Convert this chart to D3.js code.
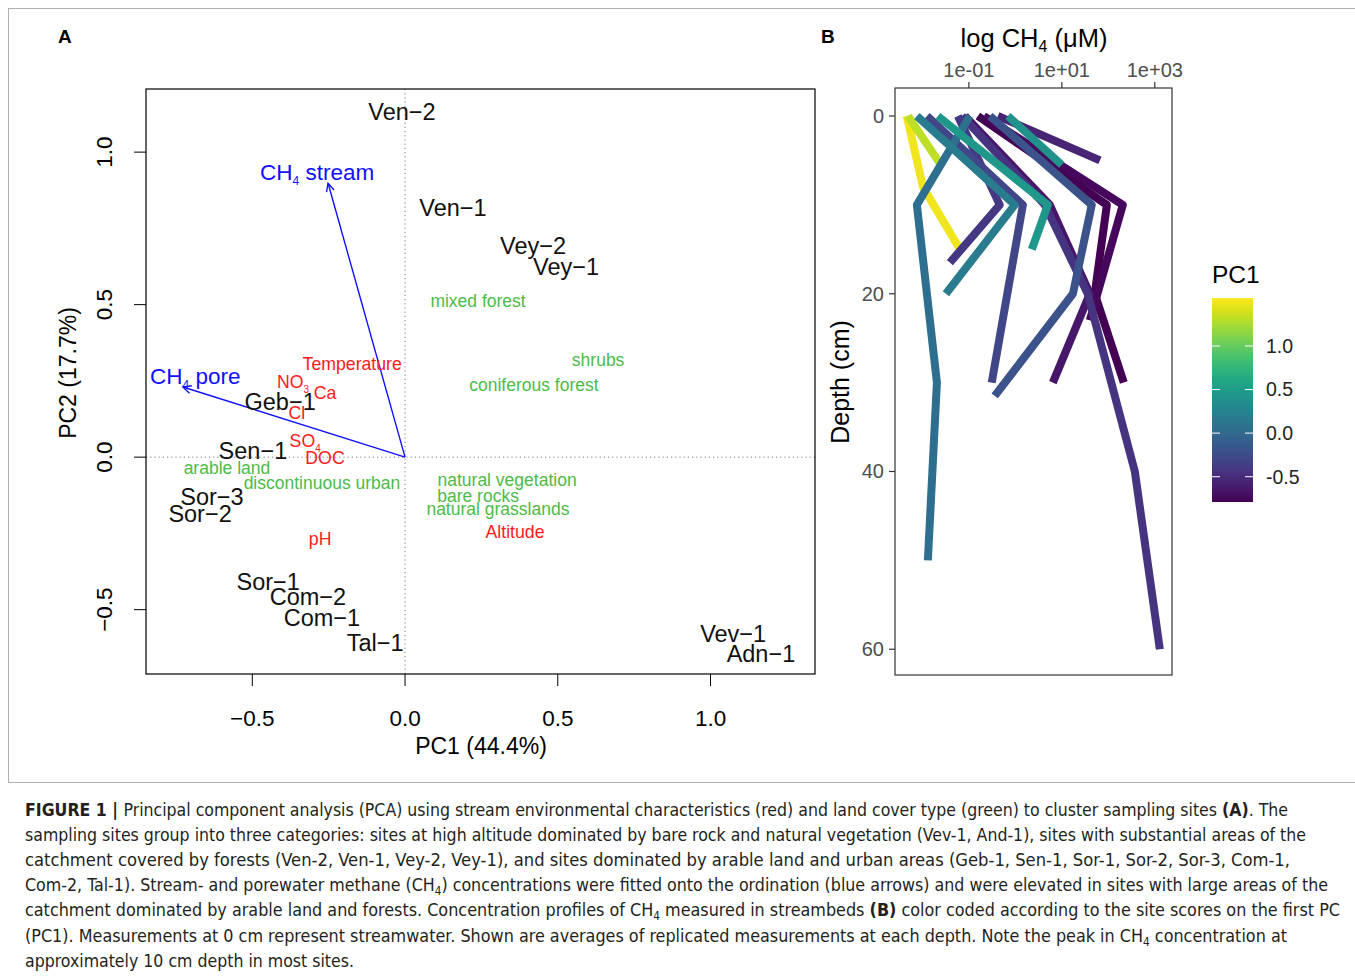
<!DOCTYPE html>
<html lang="en">
<head>
<meta charset="UTF-8">
<title>Figure 1</title>
<script src="https://d3js.org/d3.v7.min.js"></script>
<style>
  body { margin: 0; background: #fff; }
  svg text { font-family: "Liberation Sans", Arial, sans-serif; }
  .caption { font-family: "Liberation Sans Narrow", "DejaVu Sans Condensed", sans-serif; fill: #231f20; }
</style>
</head>
<body>
<div id="fig"></div>
<script>
// ---- Panel A: PCA scores (sites) ----
const siteNames = ["Ven\u22122", "Ven\u22121", "Vey\u22122", "Vey\u22121", "Geb\u22121", "Sen\u22121", "Sor\u22123",
                   "Sor\u22122", "Sor\u22121", "Com\u22122", "Com\u22121", "Tal\u22121", "Vev\u22121", "Adn\u22121"];
const siteX = [-0.01, 0.157, 0.419, 0.527, -0.409, -0.498, -0.632, -0.671, -0.448, -0.318, -0.272, -0.098, 1.074, 1.165];
const siteY = [1.131, 0.816, 0.692, 0.623, 0.180, 0.020, -0.131, -0.187, -0.407, -0.459, -0.528, -0.607, -0.580, -0.646];

// stream environmental characteristics (red)
const envNames = ["Temperature", "NO3", "Ca", "Cl", "SO4", "DOC", "pH", "Altitude"];
const envX = [-0.173, -0.367, -0.262, -0.354, -0.327, -0.262, -0.278, 0.360];
const envY = [0.305, 0.246, 0.210, 0.144, 0.052, -0.003, -0.269, -0.246];

// land cover types (green)
const landNames = ["mixed forest", "shrubs", "coniferous forest", "arable land", "discontinuous urban",
                   "natural vegetation", "bare rocks", "natural grasslands"];
const landX = [0.239, 0.632, 0.422, -0.583, -0.272, 0.334, 0.239, 0.304];
const landY = [0.511, 0.318, 0.236, -0.036, -0.085, -0.075, -0.128, -0.170];

// fitted CH4 vectors (blue)
const vecNames = ["stream", "pore"];
const vecX = [-0.252, -0.727];
const vecY = [0.898, 0.230];
const vecLabelX = [-0.288, -0.687];
const vecLabelY = [0.934, 0.266];

const pcaTicks = [-0.5, 0.0, 0.5, 1.0];

// ---- Panel B: CH4 depth profiles, coloured by PC1 (drawn in this order) ----
const profilePC1 = [1.50, 1.32, -0.79, -0.74, -0.66, -0.56, -0.44, -0.42, -0.30, -0.20, 0.05, 0.17, 0.45, 0.38];
const profileDepth = [
  [0, 8, 15],
  [0, 5.5],
  [0, 10, 20, 30],
  [0, 10, 23],
  [0, 10, 20, 30],
  [0, 5],
  [0, 10, 20, 40, 60],
  [0, 10, 16.5],
  [0, 10, 30],
  [0, 10, 20, 31.5],
  [0, 10, 30, 50],
  [0, 10, 20],
  [0, 10, 15],
  [0, 5.5]
];
const profileCH4 = [ // µM
  [0.0046, 0.0103, 0.064],
  [0.0049, 0.025],
  [0.156, 93, 51, 215],
  [0.21, 205, 40],
  [0.082, 5.5, 40, 6.4],
  [0.42, 66],
  [0.071, 4.3, 36, 372, 1282],
  [0.058, 0.46, 0.039],
  [0.0125, 1.45, 0.31],
  [0.283, 44, 17.3, 0.36],
  [0.105, 0.0076, 0.0205, 0.0131],
  [0.0076, 0.97, 0.032],
  [0.0215, 5.0, 2.26],
  [0.69, 10]
];
const ch4Ticks = [0.1, 10, 1000];
const depthTicks = [0, 20, 40, 60];
const pc1Ticks = [1.0, 0.5, 0.0, -0.5];

// ---- Caption ----
const captionLines = [
  [["FIGURE 1 | ", "b"], ["Principal component analysis (PCA) using stream environmental characteristics (red) and land cover type (green) to cluster sampling sites "], ["(A)", "b"], [". The"]],
  [["sampling sites group into three categories: sites at high altitude dominated by bare rock and natural vegetation (Vev-1, And-1), sites with substantial areas of the"]],
  [["catchment covered by forests (Ven-2, Ven-1, Vey-2, Vey-1), and sites dominated by arable land and urban areas (Geb-1, Sen-1, Sor-1, Sor-2, Sor-3, Com-1,"]],
  [["Com-2, Tal-1). Stream- and porewater methane (CH"], ["4", "s"], [") concentrations were fitted onto the ordination (blue arrows) and were elevated in sites with large areas of the"]],
  [["catchment dominated by arable land and forests. Concentration profiles of CH"], ["4", "s"], [" measured in streambeds "], ["(B)", "b"], [" color coded according to the site scores on the first PC"]],
  [["(PC1). Measurements at 0 cm represent streamwater. Shown are averages of replicated measurements at each depth. Note the peak in CH"], ["4", "s"], [" concentration at"]],
  [["approximately 10 cm depth in most sites."]]
];
const captionWidths = [1263, 1281, 1265, 1303, 1315, 1262, 329];

const W = 1355, H = 978;
const svg = d3.select("#fig").append("svg").attr("width", W).attr("height", H);
svg.append("rect").attr("width", W).attr("height", H).attr("fill", "#fff");
svg.append("rect").attr("x", 8.5).attr("y", 8.5).attr("width", 1360).attr("height", 774)
  .attr("fill", "none").attr("stroke", "#b0b0b0");

// ================= Panel A =================
const A = { left: 146, right: 815, top: 89, bottom: 674 };
const x = d3.scaleLinear().domain([-0.848, 1.342]).range([A.left, A.right]);
const y = d3.scaleLinear().domain([-0.711, 1.207]).range([A.bottom, A.top]);
const gA = svg.append("g");

gA.append("line").attr("x1", x(0)).attr("x2", x(0)).attr("y1", A.top).attr("y2", A.bottom)
  .attr("stroke", "#777").attr("stroke-dasharray", "1.2,3");
gA.append("line").attr("y1", y(0)).attr("y2", y(0)).attr("x1", A.left).attr("x2", A.right)
  .attr("stroke", "#777").attr("stroke-dasharray", "1.2,3");

gA.append("rect").attr("x", A.left).attr("y", A.top).attr("width", A.right - A.left).attr("height", A.bottom - A.top)
  .attr("fill", "none").attr("stroke", "#000").attr("stroke-width", 1.2);

const fmtPca = d => d3.format(".1f")(d).replace("-", "\u2212");
pcaTicks.forEach(t => {
  gA.append("line").attr("x1", x(t)).attr("x2", x(t)).attr("y1", A.bottom).attr("y2", A.bottom + 12).attr("stroke", "#000");
  gA.append("text").attr("x", x(t)).attr("y", 726).attr("text-anchor", "middle")
    .attr("font-size", 22.5).text(fmtPca(t));
  gA.append("line").attr("y1", y(t)).attr("y2", y(t)).attr("x1", A.left - 12).attr("x2", A.left).attr("stroke", "#000");
  gA.append("text").attr("transform", `translate(112,${y(t)}) rotate(-90)`).attr("text-anchor", "middle")
    .attr("font-size", 22.5).text(fmtPca(t));
});
gA.append("text").attr("x", 481).attr("y", 754).attr("text-anchor", "middle").attr("font-size", 23).text("PC1 (44.4%)");
gA.append("text").attr("transform", "translate(76,373) rotate(-90)").attr("text-anchor", "middle")
  .attr("font-size", 23).text("PC2 (17.7%)");

// arrows
const arrowColor = "#1010ff";
vecX.forEach((vx, i) => {
  const x0 = x(0), y0 = y(0), x1 = x(vx), y1 = y(vecY[i]);
  gA.append("line").attr("x1", x0).attr("y1", y0).attr("x2", x1).attr("y2", y1)
    .attr("stroke", arrowColor).attr("stroke-width", 1.4);
  const ang = Math.atan2(y1 - y0, x1 - x0), len = 9, spread = Math.PI / 7;
  const head = [ang + Math.PI - spread, ang + Math.PI + spread].map(a => [x1 + len * Math.cos(a), y1 + len * Math.sin(a)]);
  gA.append("path").attr("d", `M${head[0]}L${x1},${y1}L${head[1]}`)
    .attr("fill", "none").attr("stroke", arrowColor).attr("stroke-width", 1.4);
  const t = gA.append("text").attr("x", x(vecLabelX[i])).attr("y", y(vecLabelY[i])).attr("dy", "0.35em")
    .attr("text-anchor", "middle").attr("font-size", 22.5).attr("fill", arrowColor);
  t.append("tspan").text("CH");
  t.append("tspan").attr("font-size", 12).attr("dy", 5).text("4");
  t.append("tspan").attr("dy", -5).text(" " + vecNames[i]);
});

// red environmental labels
envNames.forEach((n, i) => {
  const t = gA.append("text").attr("x", x(envX[i])).attr("y", y(envY[i])).attr("dy", "0.35em")
    .attr("text-anchor", "middle").attr("font-size", 17.7).attr("fill", "#ff1a1a");
  const m = n.match(/^([A-Z]+)(\d)$/);
  if (m) {
    t.append("tspan").text(m[1]);
    t.append("tspan").attr("font-size", 10).attr("dy", 5).text(m[2]);
  } else t.text(n);
});

// green land cover labels
landNames.forEach((n, i) => {
  gA.append("text").attr("x", x(landX[i])).attr("y", y(landY[i])).attr("dy", "0.35em")
    .attr("text-anchor", "middle").attr("font-size", 17.5).attr("fill", "#4cbb47").text(n);
});

// site labels
siteNames.forEach((n, i) => {
  gA.append("text").attr("x", x(siteX[i])).attr("y", y(siteY[i])).attr("dy", "0.35em")
    .attr("text-anchor", "middle").attr("font-size", 23.5).attr("fill", "#111").text(n);
});

svg.append("text").attr("x", 58).attr("y", 43).attr("font-size", 19).attr("font-weight", "bold").text("A");
svg.append("text").attr("x", 821).attr("y", 43).attr("font-size", 19).attr("font-weight", "bold").text("B");

// ================= Panel B =================
const B = { left: 895, right: 1172, top: 88, bottom: 675 };
const bx = d3.scaleLog().domain([Math.pow(10, -2.59), Math.pow(10, 3.37)]).range([B.left, B.right]);
const by = d3.scaleLinear().domain([-3.15, 62.9]).range([B.top, B.bottom]);
const pcMin = -0.79, pcMax = 1.55;
const color = d3.scaleSequential(d3.interpolateViridis).domain([pcMin, pcMax]);
const gB = svg.append("g");

const line = d3.line().x(d => bx(d[0])).y(d => by(d[1]));
profileCH4.forEach((vals, i) => {
  const pts = vals.map((v, j) => [v, profileDepth[i][j]]);
  gB.append("path").attr("d", line(pts)).attr("fill", "none")
    .attr("stroke", color(profilePC1[i])).attr("stroke-width", 8)
    .attr("stroke-linejoin", "round").attr("stroke-linecap", "butt");
});

gB.append("rect").attr("x", B.left).attr("y", B.top).attr("width", B.right - B.left).attr("height", B.bottom - B.top)
  .attr("fill", "none").attr("stroke", "#333").attr("stroke-width", 1.2);

const fmtExp = d => {
  const e = Math.round(Math.log10(d));
  return "1e" + (e < 0 ? "-" : "+") + String(Math.abs(e)).padStart(2, "0");
};
ch4Ticks.forEach(t => {
  gB.append("line").attr("x1", bx(t)).attr("x2", bx(t)).attr("y1", B.top - 6).attr("y2", B.top).attr("stroke", "#333").attr("stroke-width", 1.2);
  gB.append("text").attr("x", bx(t)).attr("y", 77).attr("text-anchor", "middle").attr("font-size", 20)
    .attr("fill", "#4d4d4d").text(fmtExp(t));
});
depthTicks.forEach(t => {
  gB.append("line").attr("x1", B.left - 6).attr("x2", B.left).attr("y1", by(t)).attr("y2", by(t)).attr("stroke", "#333").attr("stroke-width", 1.2);
  gB.append("text").attr("x", 884).attr("y", by(t)).attr("dy", "0.35em").attr("text-anchor", "end").attr("font-size", 20)
    .attr("fill", "#4d4d4d").text(t);
});
const ttl = gB.append("text").attr("x", 1034).attr("y", 47).attr("text-anchor", "middle").attr("font-size", 25.5);
ttl.append("tspan").text("log CH");
ttl.append("tspan").attr("font-size", 16).attr("dy", 5).text("4");
ttl.append("tspan").attr("dy", -5).text(" (\u03bcM)");
gB.append("text").attr("transform", "translate(849,382) rotate(-90)").attr("text-anchor", "middle")
  .attr("font-size", 25).text("Depth (cm)");

// colour bar
const bar = { x: 1212, y: 298, w: 41, h: 204 };
const defs = svg.append("defs");
const grad = defs.append("linearGradient").attr("id", "vir").attr("x1", 0).attr("y1", 1).attr("x2", 0).attr("y2", 0);
d3.range(0, 1.0001, 0.05).forEach(s => {
  grad.append("stop").attr("offset", s).attr("stop-color", d3.interpolateViridis(s));
});
gB.append("rect").attr("x", bar.x).attr("y", bar.y).attr("width", bar.w).attr("height", bar.h).attr("fill", "url(#vir)");
const cb = d3.scaleLinear().domain([pcMin, pcMax]).range([bar.y + bar.h, bar.y]);
pc1Ticks.forEach(t => {
  gB.append("line").attr("x1", bar.x).attr("x2", bar.x + 8).attr("y1", cb(t)).attr("y2", cb(t)).attr("stroke", "#fff").attr("stroke-width", 1);
  gB.append("line").attr("x1", bar.x + bar.w - 8).attr("x2", bar.x + bar.w).attr("y1", cb(t)).attr("y2", cb(t)).attr("stroke", "#fff").attr("stroke-width", 1);
  gB.append("text").attr("x", 1266).attr("y", cb(t)).attr("dy", "0.35em").attr("font-size", 19.5).attr("fill", "#222")
    .text(d3.format(".1f")(t).replace("\u2212", "-"));
});
gB.append("text").attr("x", 1212).attr("y", 283).attr("font-size", 24.5).text("PC1");

// ================= Caption =================
captionLines.forEach((segs, i) => {
  const t = svg.append("text").attr("class", "caption").attr("x", 25).attr("y", 816 + i * 25.1)
    .attr("font-size", 17.5).attr("textLength", captionWidths[i]).attr("lengthAdjust", "spacingAndGlyphs");
  let shifted = false;
  segs.forEach(([s, k]) => {
    const sp = t.append("tspan").text(s);
    if (k === "b") sp.attr("font-weight", "bold");
    if (k === "s") { sp.attr("font-size", 11.5).attr("dy", 4); shifted = true; }
    else if (shifted) { sp.attr("dy", -4); shifted = false; }
  });
});
</script>
</body>
</html>
